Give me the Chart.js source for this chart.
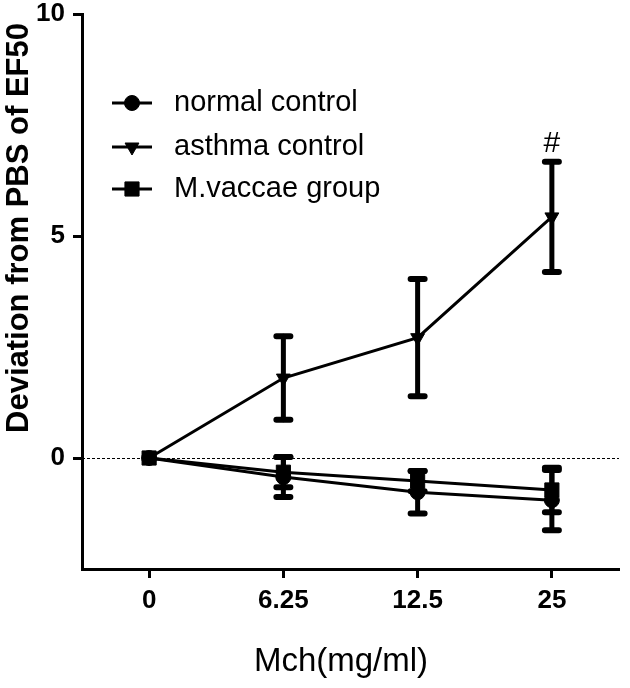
<!DOCTYPE html>
<html>
<head>
<meta charset="utf-8">
<script src="https://cdn.jsdelivr.net/npm/chart.js@4/dist/chart.umd.min.js"></script>
<style>
  body { margin: 0; background: #fff; }
  #wrap { width: 630px; height: 688px; }
</style>
</head>
<body>
<div id="wrap"><canvas id="mchChart" width="630" height="688"></canvas></div>
<script>
// Mch dose (mg/ml) and y ticks
const doses = ["0", "6.25", "12.5", "25"];
const yTicks = [0, 5, 10];

// group means and error bars
const normalMean = [0, -0.43, -0.77, -0.95];
const normalErr = [0, 0.45, 0.48, 0.68];
const asthmaMean = [0, 1.8, 2.71, 5.43];
const asthmaErr = [0, 0.94, 1.32, 1.24];
const vaccaeMean = [0, -0.32, -0.52, -0.72];
const vaccaeErr = [0, 0.34, 0.23, 0.5];

// significance mark above asthma control at 25 mg/ml
const sigMark = "#";
const sigIndex = 3;

const xTitle = "Mch(mg/ml)";
const yTitle = "Deviation from PBS of EF50";

const tickFont = { family: "Liberation Sans", size: 26, weight: "bold" };

function series(label, data, errors, pointStyle, radius, rotation, order) {
    return {
        label: label,
        data: data,
        errors: errors,
        order: order,
        borderColor: "#000",
        backgroundColor: "#000",
        borderWidth: 3,
        pointStyle: pointStyle,
        pointRadius: radius,
        pointRotation: rotation,
        pointBorderWidth: 1,
        pointBackgroundColor: "#000",
        pointBorderColor: "#000",
        tension: 0
    };
}

const zeroLine = {
    id: "zeroLine",
    beforeDatasetsDraw(chart) {
        const { ctx, chartArea, scales } = chart;
        const y0 = Math.round(scales.y.getPixelForValue(0)) + 0.5;
        ctx.save();
        ctx.strokeStyle = "#000";
        ctx.lineWidth = 1;
        ctx.setLineDash([3, 2]);
        ctx.beginPath();
        ctx.moveTo(chartArea.left, y0);
        ctx.lineTo(chartArea.right, y0);
        ctx.stroke();
        ctx.restore();
    }
};

const errorBars = {
    id: "errorBars",
    afterDatasetsDraw(chart) {
        const { ctx, scales } = chart;
        ctx.save();
        ctx.strokeStyle = "#000";
        ctx.lineCap = "round";
        chart.data.datasets.forEach((ds, i) => {
            const meta = chart.getDatasetMeta(i);
            meta.data.forEach((pt, j) => {
                const err = ds.errors[j];
                if (!err) return;
                const top = scales.y.getPixelForValue(ds.data[j] + err);
                const bottom = scales.y.getPixelForValue(ds.data[j] - err);
                ctx.lineWidth = 5;
                ctx.beginPath();
                ctx.moveTo(pt.x, top);
                ctx.lineTo(pt.x, bottom);
                ctx.stroke();
                ctx.lineWidth = 6;
                ctx.beginPath();
                ctx.moveTo(pt.x - 7, top);
                ctx.lineTo(pt.x + 7, top);
                ctx.moveTo(pt.x - 7, bottom);
                ctx.lineTo(pt.x + 7, bottom);
                ctx.stroke();
            });
        });
        ctx.restore();
    }
};

const sigLabel = {
    id: "sigLabel",
    afterDatasetsDraw(chart) {
        const { ctx, scales } = chart;
        const x = scales.x.getPixelForValue(sigIndex);
        const y = scales.y.getPixelForValue(asthmaMean[sigIndex] + asthmaErr[sigIndex]);
        ctx.save();
        ctx.fillStyle = "#000";
        ctx.font = "30px 'Liberation Sans', Arial, sans-serif";
        ctx.textAlign = "center";
        ctx.textBaseline = "bottom";
        ctx.fillText(sigMark, x, y - 3);
        ctx.restore();
    }
};

// axis titles placed like the original figure (y title sits above centre)
const axisTitles = {
    id: "axisTitles",
    afterDraw(chart) {
        const { ctx } = chart;
        ctx.save();
        ctx.fillStyle = "#000";
        ctx.textAlign = "center";
        ctx.textBaseline = "middle";
        ctx.font = "33px 'Liberation Sans', Arial, sans-serif";
        ctx.fillText(xTitle, 341, 662);
        ctx.translate(19, 228);
        ctx.rotate(-Math.PI / 2);
        ctx.font = "bold 31px 'Liberation Sans', Arial, sans-serif";
        ctx.fillText(yTitle, 0, 0);
        ctx.restore();
    }
};

const insideLegend = {
    id: "insideLegend",
    afterDraw(chart) {
        const { ctx } = chart;
        const rows = [103, 147, 189];
        ctx.save();
        chart.data.datasets.forEach((ds, i) => {
            const y = rows[i];
            ctx.strokeStyle = "#000";
            ctx.fillStyle = "#000";
            ctx.lineWidth = 3;
            ctx.beginPath();
            ctx.moveTo(112, y);
            ctx.lineTo(152, y);
            ctx.stroke();
            ctx.lineWidth = 1;
            Chart.helpers.drawPoint(ctx, {
                pointStyle: ds.pointStyle,
                radius: ds.pointRadius,
                rotation: ds.pointRotation,
                borderWidth: 1
            }, 132, y);
            ctx.font = "29px 'Liberation Sans', Arial, sans-serif";
            ctx.textAlign = "left";
            ctx.textBaseline = "middle";
            ctx.fillText(ds.label, 174, y);
        });
        ctx.restore();
    }
};

new Chart(document.getElementById("mchChart"), {
    type: "line",
    data: {
        labels: doses,
        datasets: [
            series("normal control", normalMean, normalErr, "circle", 7.5, 0, 2),
            series("asthma control", asthmaMean, asthmaErr, "triangle", 8, 180, 1),
            series("M.vaccae group", vaccaeMean, vaccaeErr, "rect", 10, 0, 0)
        ]
    },
    options: {
        responsive: false,
        devicePixelRatio: 1,
        animation: false,
        layout: { padding: { top: 14, right: 8, left: 0, bottom: 0 } },
        plugins: {
            legend: { display: false },
            tooltip: { enabled: false }
        },
        scales: {
            x: {
                type: "category",
                offset: true,
                grid: { drawOnChartArea: false, drawTicks: true, tickLength: 9, tickWidth: 3, tickColor: "#000" },
                border: { display: true, color: "#000", width: 3 },
                ticks: { color: "#000", font: tickFont, padding: 7, maxRotation: 0 },
                afterFit(scale) {
                    scale.height = 119;
                    scale.paddingLeft = 0;
                    scale.paddingRight = 0;
                }
            },
            y: {
                min: -2.5,
                max: 10,
                afterBuildTicks(scale) {
                    scale.ticks = yTicks.map(v => ({ value: v }));
                },
                grid: { drawOnChartArea: false, drawTicks: true, tickLength: 9, tickWidth: 3, tickColor: "#000" },
                border: { display: true, color: "#000", width: 3 },
                ticks: { color: "#000", font: tickFont, padding: 8 },
                afterFit(scale) {
                    scale.width = 82;
                    scale.paddingTop = 0;
                    scale.paddingBottom = 0;
                }
            }
        }
    },
    plugins: [zeroLine, errorBars, sigLabel, axisTitles, insideLegend]
});
</script>
</body>
</html>
